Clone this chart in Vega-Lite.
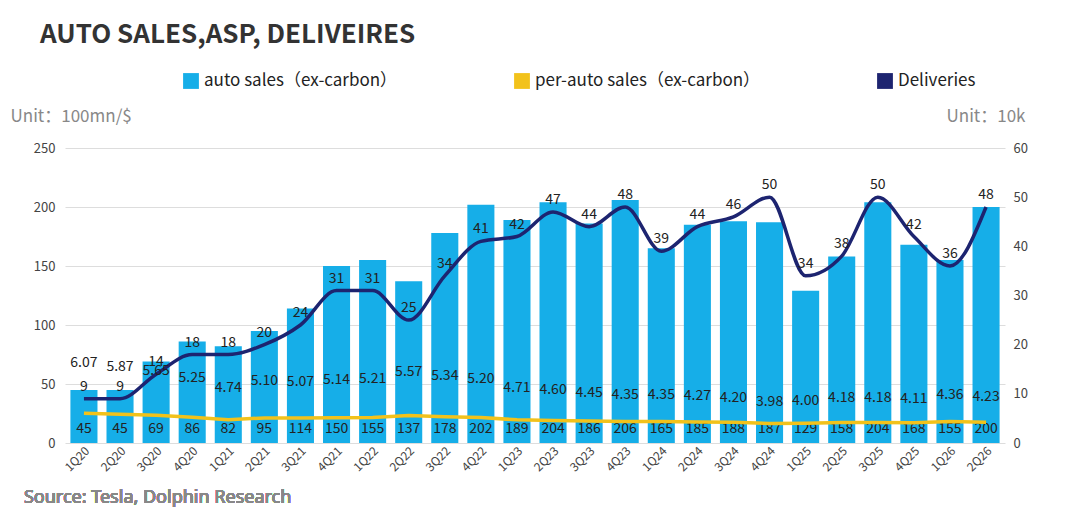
{
"$schema":"https://vega.github.io/schema/vega-lite/v6.json",
"width":940,"height":295,
"padding":{"left":10,"top":22,"right":10,"bottom":0},
"background":"white",
"config":{"font":"Noto Sans CJK SC","view":{"stroke":null},"axis":{"labelFontSize":13,"labelColor":"#444","domain":false,"ticks":false}},
"title":{"text":"AUTO SALES,ASP, DELIVEIRES","anchor":"start","fontSize":26,"fontWeight":"bold","color":"#333","offset":24,"dx":30},
"data":{"values":[
{"q":"1Q20","sales":45,"asp":6.07,"del":9},{"q":"2Q20","sales":45,"asp":5.87,"del":9},{"q":"3Q20","sales":69,"asp":5.65,"del":14},{"q":"4Q20","sales":86,"asp":5.25,"del":18},
{"q":"1Q21","sales":82,"asp":4.74,"del":18},{"q":"2Q21","sales":95,"asp":5.10,"del":20},{"q":"3Q21","sales":114,"asp":5.07,"del":24},{"q":"4Q21","sales":150,"asp":5.14,"del":31},
{"q":"1Q22","sales":155,"asp":5.21,"del":31},{"q":"2Q22","sales":137,"asp":5.57,"del":25},{"q":"3Q22","sales":178,"asp":5.34,"del":34},{"q":"4Q22","sales":202,"asp":5.20,"del":41},
{"q":"1Q23","sales":189,"asp":4.71,"del":42},{"q":"2Q23","sales":204,"asp":4.60,"del":47},{"q":"3Q23","sales":186,"asp":4.45,"del":44},{"q":"4Q23","sales":206,"asp":4.35,"del":48},
{"q":"1Q24","sales":165,"asp":4.35,"del":39},{"q":"2Q24","sales":185,"asp":4.27,"del":44},{"q":"3Q24","sales":188,"asp":4.20,"del":46},{"q":"4Q24","sales":187,"asp":3.98,"del":50},
{"q":"1Q25","sales":129,"asp":4.00,"del":34},{"q":"2Q25","sales":158,"asp":4.18,"del":38},{"q":"3Q25","sales":204,"asp":4.18,"del":50},{"q":"4Q25","sales":168,"asp":4.11,"del":42},
{"q":"1Q26","sales":155,"asp":4.36,"del":36},{"q":"2Q26","sales":200,"asp":4.23,"del":48}
]},
"encoding":{"x":{"field":"q","type":"ordinal","sort":null,"title":null,"scale":{"paddingInner":0.25,"paddingOuter":0.15},"axis":{"labelAngle":-45,"labelFontSize":12}}},
"layer":[
{"mark":{"type":"bar","color":"#16aee8"},
 "encoding":{"y":{"field":"sales","type":"quantitative","scale":{"domain":[0,250]},"axis":{"values":[0,50,100,150,200,250],"grid":true,"gridColor":"#ddd","title":"Unit：100mn/$","titleAngle":0,"titleAlign":"left","titleX":-55,"titleY":-23,"titleFontSize":17,"titleFontWeight":"normal","titleColor":"#888","labelPadding":10}},
  "color":{"datum":"auto sales（ex-carbon）","type":"nominal","scale":{"domain":["auto sales（ex-carbon）","per-auto sales（ex-carbon）","Deliveries"],"range":["#16aee8","#f2c21b","#1d2470"]},"legend":{"orient":"none","legendX":117,"legendY":-76,"direction":"horizontal","title":null,"labelFontSize":17,"labelLimit":0,"symbolType":"square","symbolSize":250,"columnPadding":115,"labelColor":"#222"}}}},
{"mark":{"type":"text","fontSize":14,"color":"#222"},
 "encoding":{"y":{"datum":12,"type":"quantitative","scale":{"domain":[0,250]},"axis":null},"text":{"field":"sales"}}},
{"mark":{"type":"line","color":"#f2c21b","strokeWidth":3.5},
 "encoding":{"y":{"field":"asp","type":"quantitative","scale":{"domain":[0,60]},"axis":null}}},
{"mark":{"type":"line","color":"#1d2470","strokeWidth":3.5,"interpolate":"monotone"},
 "encoding":{"y":{"field":"del","type":"quantitative","scale":{"domain":[0,60]},"axis":{"orient":"right","values":[0,10,20,30,40,50,60],"title":"Unit：10k","titleAngle":0,"titleAlign":"right","titleX":20,"titleY":-23,"titleFontSize":17,"titleFontWeight":"normal","titleColor":"#888","labelPadding":8}}}},
{"mark":{"type":"text","fontSize":14,"color":"#222","dy":-12},
 "encoding":{"y":{"field":"del","type":"quantitative","scale":{"domain":[0,60]},"axis":null},"text":{"field":"del"}}},
{"mark":{"type":"text","fontSize":14,"color":"#222"},
 "encoding":{"y":{"field":"asp","type":"quantitative","scale":{"domain":[1.77,17.6]},"axis":null},"text":{"field":"asp","format":".2f"}}},
{"mark":{"type":"text","fontSize":18,"font":"Noto Sans","fontWeight":"normal","color":"#888","align":"left","dy":55,"dx":-60},
 "encoding":{"x":{"datum":"1Q20"},"y":{"datum":0,"type":"quantitative","scale":{"domain":[0,250]},"axis":null},"text":{"value":"Source: Tesla, Dolphin Research"}}}
],
"resolve":{"scale":{"y":"independent"}}
}
